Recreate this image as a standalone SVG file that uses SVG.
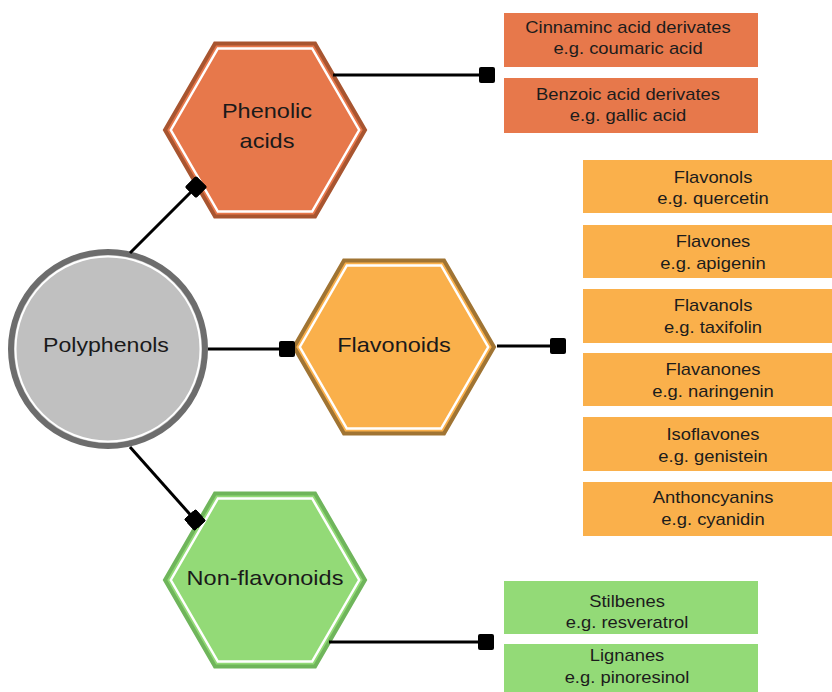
<svg xmlns="http://www.w3.org/2000/svg" width="832" height="692" viewBox="0 0 832 692">
<style>
.bt{font-family:"Liberation Sans",Arial,sans-serif;font-size:16px;fill:#1c1c1c;text-anchor:middle}
.ht{font-family:"Liberation Sans",Arial,sans-serif;font-size:21px;fill:#1a1a1a;text-anchor:middle}
.con{stroke:#000;stroke-width:3;fill:none;marker-end:url(#sq)}
.inner{fill:none;stroke:#fff;stroke-width:2.5}
.red{fill:#e7784b}
.org{fill:#fab04b}
.grn{fill:#93da77}
</style>
<defs>
<marker id="sq" viewBox="0 0 16 16" refX="8" refY="8" markerWidth="16" markerHeight="16" markerUnits="userSpaceOnUse" orient="auto">
<rect x="0" y="0" width="16" height="16" rx="2" fill="#000"/>
</marker>
<polygon id="hexO" points="-100,0 -50,-86.6 50,-86.6 100,0 50,86.6 -50,86.6"/>
<polygon id="hexI" points="-94.2,0 -47.1,-81.6 47.1,-81.6 94.2,0 47.1,81.6 -47.1,81.6"/>
</defs>
<rect width="832" height="692" fill="#fff"/>

<g id="polyphenols">
<circle cx="108" cy="349" r="97" fill="#c0c0c0" stroke="#6d6d6d" stroke-width="6"/>
<circle cx="108" cy="349" r="92.5" fill="none" stroke="#fff" stroke-width="2"/>
<g transform="translate(106,0) scale(1.1,1)"><text class="ht" x="0" y="352">Polyphenols</text></g>
</g>

<g id="phenolic-acids">
<use href="#hexO" transform="translate(265,130)" fill="#e7784b" stroke="#a85530" stroke-width="4"/>
<use href="#hexI" transform="translate(265,130)" class="inner"/>
<g transform="translate(267,0) scale(1.12,1)"><text class="ht" x="0" y="118">Phenolic</text><text class="ht" x="0" y="148">acids</text></g>
</g>

<g id="flavonoids">
<use href="#hexO" transform="translate(394,347)" fill="#fab04b" stroke="#a07433" stroke-width="4"/>
<use href="#hexI" transform="translate(394,347)" class="inner"/>
<g transform="translate(394,0) scale(1.12,1)"><text class="ht" x="0" y="352">Flavonoids</text></g>
</g>

<g id="non-flavonoids">
<use href="#hexO" transform="translate(265,580)" fill="#93da77" stroke="#6fb55b" stroke-width="4"/>
<use href="#hexI" transform="translate(265,580)" class="inner"/>
<g transform="translate(265,0) scale(1.12,1)"><text class="ht" x="0" y="585">Non-flavonoids</text></g>
</g>

<g id="cinnamic">
<rect class="red" x="504" y="13" width="254" height="54"/>
<g transform="translate(628,0) scale(1.15,1)"><text class="bt" x="0" y="33">Cinnaminc acid derivates</text><text class="bt" x="0" y="54">e.g. coumaric acid</text></g>
</g>
<g id="benzoic">
<rect class="red" x="504" y="78" width="254" height="55"/>
<g transform="translate(628,0) scale(1.15,1)"><text class="bt" x="0" y="100">Benzoic acid derivates</text><text class="bt" x="0" y="121">e.g. gallic acid</text></g>
</g>

<g id="flavonols">
<rect class="org" x="583" y="160" width="264" height="53"/>
<g transform="translate(713,0) scale(1.15,1)"><text class="bt" x="0" y="183">Flavonols</text><text class="bt" x="0" y="204">e.g. quercetin</text></g>
</g>
<g id="flavones">
<rect class="org" x="583" y="225" width="264" height="53"/>
<g transform="translate(713,0) scale(1.15,1)"><text class="bt" x="0" y="247">Flavones</text><text class="bt" x="0" y="269">e.g. apigenin</text></g>
</g>
<g id="flavanols">
<rect class="org" x="583" y="289" width="264" height="54"/>
<g transform="translate(713,0) scale(1.15,1)"><text class="bt" x="0" y="311">Flavanols</text><text class="bt" x="0" y="333">e.g. taxifolin</text></g>
</g>
<g id="flavanones">
<rect class="org" x="583" y="353" width="264" height="53"/>
<g transform="translate(713,0) scale(1.15,1)"><text class="bt" x="0" y="375">Flavanones</text><text class="bt" x="0" y="397">e.g. naringenin</text></g>
</g>
<g id="isoflavones">
<rect class="org" x="583" y="417" width="264" height="54"/>
<g transform="translate(713,0) scale(1.15,1)"><text class="bt" x="0" y="440">Isoflavones</text><text class="bt" x="0" y="462">e.g. genistein</text></g>
</g>
<g id="anthocyanins">
<rect class="org" x="583" y="482" width="264" height="54"/>
<g transform="translate(713,0) scale(1.15,1)"><text class="bt" x="0" y="503">Anthoncyanins</text><text class="bt" x="0" y="525">e.g. cyanidin</text></g>
</g>

<g id="stilbenes">
<rect class="grn" x="504" y="581" width="254" height="53"/>
<g transform="translate(627,0) scale(1.15,1)"><text class="bt" x="0" y="607">Stilbenes</text><text class="bt" x="0" y="628">e.g. resveratrol</text></g>
</g>
<g id="lignanes">
<rect class="grn" x="504" y="644" width="254" height="53"/>
<g transform="translate(627,0) scale(1.15,1)"><text class="bt" x="0" y="661">Lignanes</text><text class="bt" x="0" y="683">e.g. pinoresinol</text></g>
</g>

<g id="connectors">
<line class="con" x1="130" y1="253" x2="196" y2="187"/>
<line class="con" x1="208" y1="349" x2="287" y2="349"/>
<line class="con" x1="130" y1="447" x2="195" y2="520"/>
<line class="con" x1="333" y1="75" x2="487" y2="75"/>
<line class="con" x1="497" y1="346" x2="558" y2="346"/>
<line class="con" x1="329" y1="642" x2="486" y2="642"/>
</g>
</svg>
